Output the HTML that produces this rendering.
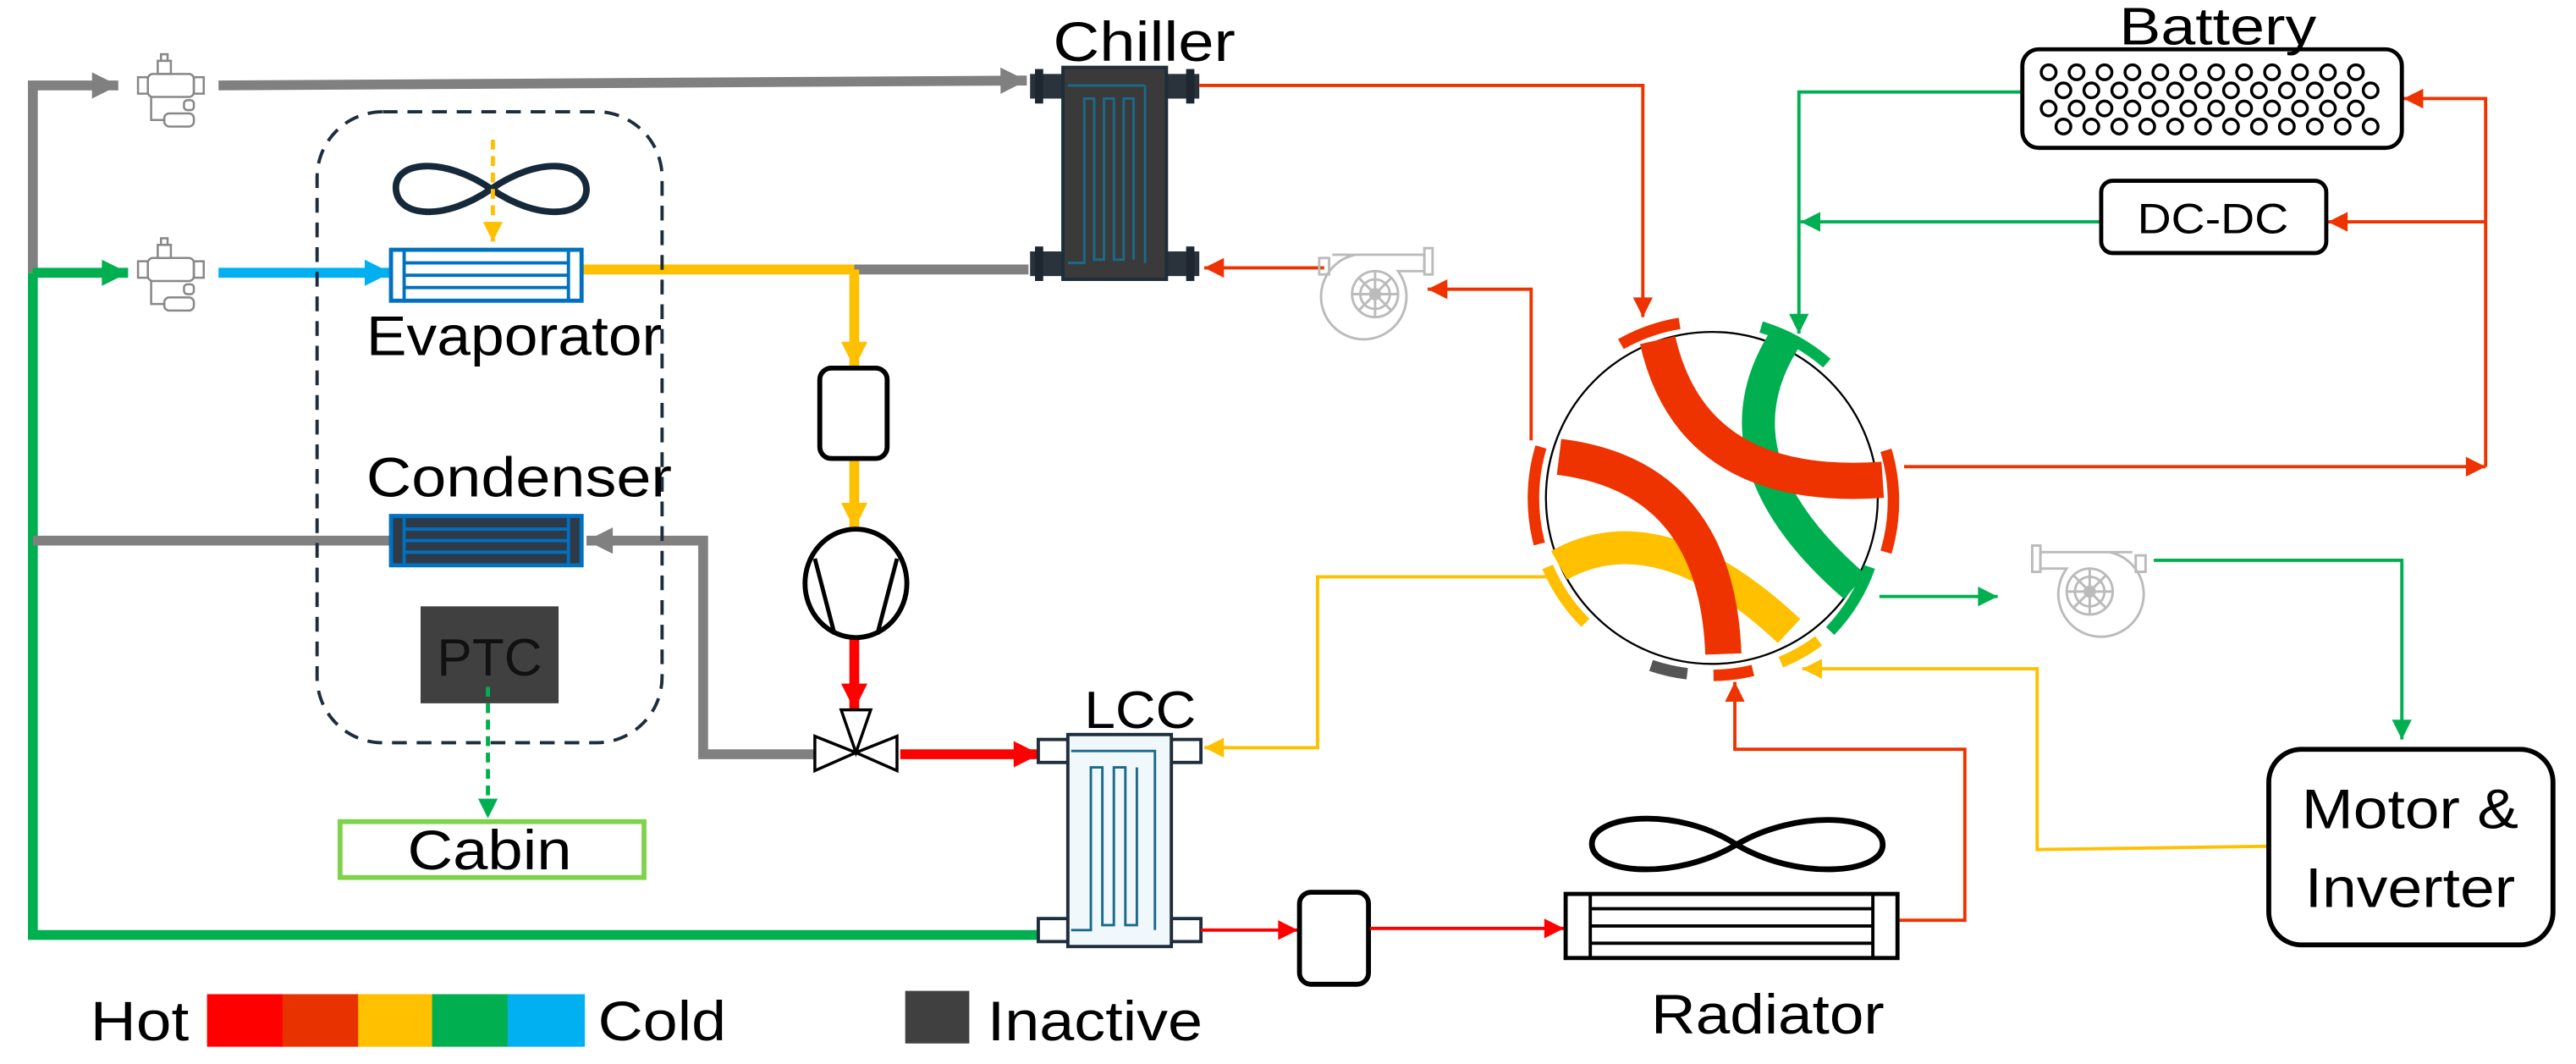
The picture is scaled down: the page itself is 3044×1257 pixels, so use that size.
<!DOCTYPE html>
<html><head><meta charset="utf-8"><style>html,body{margin:0;padding:0;background:#fff}svg{display:block}</style></head>
<body>
<svg width="3044" height="1257" viewBox="0 0 1568 647.5" xmlns="http://www.w3.org/2000/svg" font-family="Liberation Sans, sans-serif">
<defs>
<marker id="gT" viewBox="0 0 10 10" refX="10" refY="5" markerWidth="18" markerHeight="16" markerUnits="userSpaceOnUse" orient="auto"><path d="M0,0L10,5L0,10z" fill="#808080"/></marker>
<marker id="gnT" viewBox="0 0 10 10" refX="10" refY="5" markerWidth="18" markerHeight="16" markerUnits="userSpaceOnUse" orient="auto"><path d="M0,0L10,5L0,10z" fill="#00b050"/></marker>
<marker id="bT" viewBox="0 0 10 10" refX="10" refY="5" markerWidth="18" markerHeight="16" markerUnits="userSpaceOnUse" orient="auto"><path d="M0,0L10,5L0,10z" fill="#00b0f0"/></marker>
<marker id="yT" viewBox="0 0 10 10" refX="10" refY="5" markerWidth="18" markerHeight="16" markerUnits="userSpaceOnUse" orient="auto"><path d="M0,0L10,5L0,10z" fill="#ffc000"/></marker>
<marker id="rT" viewBox="0 0 10 10" refX="10" refY="5" markerWidth="18" markerHeight="16" markerUnits="userSpaceOnUse" orient="auto"><path d="M0,0L10,5L0,10z" fill="#ff0000"/></marker>
<marker id="o" viewBox="0 0 10 10" refX="10" refY="5" markerWidth="13" markerHeight="12" markerUnits="userSpaceOnUse" orient="auto"><path d="M0,0L10,5L0,10z" fill="#ee3300"/></marker>
<marker id="r" viewBox="0 0 10 10" refX="10" refY="5" markerWidth="13" markerHeight="12" markerUnits="userSpaceOnUse" orient="auto"><path d="M0,0L10,5L0,10z" fill="#ff0000"/></marker>
<marker id="g" viewBox="0 0 10 10" refX="10" refY="5" markerWidth="13" markerHeight="12" markerUnits="userSpaceOnUse" orient="auto"><path d="M0,0L10,5L0,10z" fill="#00b050"/></marker>
<marker id="y" viewBox="0 0 10 10" refX="10" refY="5" markerWidth="13" markerHeight="12" markerUnits="userSpaceOnUse" orient="auto"><path d="M0,0L10,5L0,10z" fill="#ffc000"/></marker>
<g id="valve" fill="none" stroke="#888" stroke-width="1.3">
<rect x="8" y="12" width="28" height="14" rx="3" fill="#fff"/><rect x="36" y="14" width="6" height="10"/><rect x="14" y="4" width="8" height="8"/><rect x="16" y="0" width="4" height="4"/>
<path d="M10,26 V40 H18"/><rect x="18" y="36" width="18" height="8" rx="3"/><rect x="30" y="28" width="6" height="6" rx="2"/><rect x="2" y="14" width="6" height="10"/>
</g>
<g id="pump" fill="none" stroke="#bbb" stroke-width="1.5">
<path d="M8,6 H64 V16 H48 A26,26 0 1 1 22,6"/><rect x="64" y="2" width="5" height="16"/><circle cx="34" cy="30" r="14"/><circle cx="34" cy="30" r="9"/><circle cx="34" cy="30" r="3"/>
<path d="M34,16V44M20,30H48M24,20L44,40M44,20L24,40"/><rect x="0" y="8" width="6" height="10"/>
</g>
</defs>

<!-- refrigerant lines -->
<path d="M20,166 V52 H72" stroke="#808080" stroke-width="6" fill="none" marker-end="url(#gT)"/>
<path d="M133,52 L625,49" stroke="#808080" stroke-width="6" fill="none" marker-end="url(#gT)"/>
<path d="M20,166 V569 H633" stroke="#00b050" stroke-width="6" fill="none"/>
<path d="M20,166 H78" stroke="#00b050" stroke-width="6" fill="none" marker-end="url(#gnT)"/>
<path d="M133,166 H238" stroke="#00b0f0" stroke-width="6" fill="none" marker-end="url(#bT)"/>
<path d="M355,164 H520" stroke="#ffc000" stroke-width="6" fill="none"/>
<path d="M520,164 H626" stroke="#808080" stroke-width="6" fill="none"/>
<path d="M520,164 V224" stroke="#ffc000" stroke-width="6" fill="none" marker-end="url(#yT)"/>
<path d="M520,279 V322" stroke="#ffc000" stroke-width="6" fill="none" marker-end="url(#yT)"/>
<path d="M520,388 V432" stroke="#ff0000" stroke-width="6" fill="none" marker-end="url(#rT)"/>
<path d="M548,459 H633" stroke="#ff0000" stroke-width="6" fill="none" marker-end="url(#rT)"/>
<path d="M20,329 H238" stroke="#808080" stroke-width="6" fill="none"/>
<path d="M496,459 H428 V329 H357" stroke="#808080" stroke-width="6" fill="none" marker-end="url(#gT)"/>

<!-- valves -->
<use href="#valve" x="82" y="33"/>
<use href="#valve" x="82" y="145"/>

<!-- dashed enclosure -->
<rect x="193" y="68" width="210" height="384" rx="40" fill="none" stroke="#1e2d3c" stroke-width="2" stroke-dasharray="9,6"/>
<!-- fan -->
<path d="M299,115 C270,95 240,98 241,115 C242,132 270,135 299,115 C328,95 356,98 357,115 C357,132 328,135 299,115Z" fill="none" stroke="#16293a" stroke-width="4"/>
<path d="M300,85 V147" stroke="#ffc000" stroke-width="2.5" stroke-dasharray="6,4" fill="none" marker-end="url(#y)"/>
<!-- evaporator -->
<rect x="238" y="152" width="116" height="31" fill="#fff" stroke="#0070c0" stroke-width="2.5"/>
<path d="M246,152V183M346,152V183M246,160H346M246,167.5H346M246,175H346" stroke="#0070c0" stroke-width="2"/>
<text x="223" y="216" font-size="34" textLength="180" lengthAdjust="spacingAndGlyphs">Evaporator</text>
<!-- condenser -->
<rect x="238" y="314" width="116" height="30" fill="#2f3a48" stroke="#0070c0" stroke-width="2.5"/>
<path d="M246,314V344M346,314V344M246,322H346M246,329H346M246,336H346" stroke="#0070c0" stroke-width="2"/>
<text x="223" y="302" font-size="34" textLength="186" lengthAdjust="spacingAndGlyphs">Condenser</text>
<!-- PTC -->
<rect x="256" y="369" width="84" height="59" fill="#404040"/>
<text x="298" y="411" font-size="32" text-anchor="middle" fill="#111" textLength="64" lengthAdjust="spacingAndGlyphs">PTC</text>
<path d="M297,418 V498" stroke="#00b050" stroke-width="2.5" stroke-dasharray="6,4" fill="none" marker-end="url(#g)"/>
<rect x="207" y="500" width="185" height="34" fill="#fff" stroke="#7fd34a" stroke-width="3"/>
<text x="298" y="529" font-size="34" text-anchor="middle" textLength="100" lengthAdjust="spacingAndGlyphs">Cabin</text>

<!-- accumulator / compressor / exp valve -->
<rect x="499" y="224" width="41" height="55" rx="7" fill="#fff" stroke="#000" stroke-width="3"/>
<ellipse cx="521" cy="355" rx="31" ry="33" fill="#fff" stroke="#000" stroke-width="3"/>
<path d="M496,340 L508,386 M546,340 L534,386" stroke="#000" stroke-width="2.5"/>
<path d="M496,448 L521,458 L496,469Z M546,448 L521,458 L546,469Z M512,432 H530 L521,458Z" fill="#fff" stroke="#000" stroke-width="1.8"/>

<!-- Chiller -->
<rect x="627" y="45" width="20" height="15" fill="#2a323c"/><rect x="710" y="45" width="20" height="15" fill="#2a323c"/>
<rect x="627" y="153" width="20" height="15" fill="#2a323c"/><rect x="710" y="153" width="20" height="15" fill="#2a323c"/>
<rect x="630" y="42" width="5" height="21" fill="#1e2630"/><rect x="722" y="42" width="5" height="21" fill="#1e2630"/>
<rect x="630" y="150" width="5" height="21" fill="#1e2630"/><rect x="722" y="150" width="5" height="21" fill="#1e2630"/>
<rect x="647" y="41" width="63" height="129" fill="#3a3a3a" stroke="#1e2d3c" stroke-width="2"/>
<path d="M697,52 H650 M697,52 V160 M650,160 H660 V60 H666 V158 H672 V60 H678 V158 H684 V60 H690 V158" fill="none" stroke="#1a6a8a" stroke-width="1.5"/>
<text x="641" y="37" font-size="34" textLength="111" lengthAdjust="spacingAndGlyphs">Chiller</text>

<!-- LCC -->
<rect x="632" y="450" width="18" height="14" fill="#fff" stroke="#1e2d3c" stroke-width="2"/><rect x="713" y="450" width="18" height="14" fill="#fff" stroke="#1e2d3c" stroke-width="2"/>
<rect x="632" y="559" width="18" height="14" fill="#fff" stroke="#1e2d3c" stroke-width="2"/><rect x="713" y="559" width="18" height="14" fill="#fff" stroke="#1e2d3c" stroke-width="2"/>
<rect x="650" y="447" width="63" height="129" fill="#f0f8fc" stroke="#1e2d3c" stroke-width="2"/>
<path d="M652,457 H703 V566 M652,566 H664 V467 H671 V563 H678 V467 H685 V563 H692 V467" fill="none" stroke="#1a6a8a" stroke-width="1.5"/>
<text x="660" y="443" font-size="32" textLength="68" lengthAdjust="spacingAndGlyphs">LCC</text>

<!-- coolant lines -->
<path d="M730,52 H1000 V193" stroke="#ee3300" stroke-width="2" fill="none" marker-end="url(#o)"/>
<path d="M806,163 H733" stroke="#ee3300" stroke-width="2" fill="none" marker-end="url(#o)"/>
<path d="M932,268 V176 H869" stroke="#ee3300" stroke-width="2" fill="none" marker-end="url(#o)"/>
<use href="#pump" x="803" y="149"/>
<path d="M941,351 H802 V455 H733" stroke="#ffc000" stroke-width="2" fill="none" marker-end="url(#y)"/>
<path d="M731,566 H790" stroke="#ff0000" stroke-width="2" fill="none" marker-end="url(#r)"/>
<rect x="791" y="543" width="42" height="56" rx="7" fill="#fff" stroke="#000" stroke-width="3"/>
<path d="M834,565 H952" stroke="#ff0000" stroke-width="2" fill="none" marker-end="url(#r)"/>
<path d="M1155,560 H1196 V456 H1056 V415" stroke="#ee3300" stroke-width="2" fill="none" marker-end="url(#o)"/>
<path d="M1381,515 L1240,517 V407 H1097" stroke="#ffc000" stroke-width="2" fill="none" marker-end="url(#y)"/>
<path d="M1144,363 H1216" stroke="#00b050" stroke-width="2" fill="none" marker-end="url(#g)"/>
<use href="#pump" x="1216" y="330" transform="translate(2522,0) scale(-1,1)"/>
<path d="M1311,341 H1462 V450" stroke="#00b050" stroke-width="2" fill="none" marker-end="url(#g)"/>
<path d="M1231,56 H1095 V203" stroke="#00b050" stroke-width="2" fill="none" marker-end="url(#g)"/>
<path d="M1279,135 H1096" stroke="#00b050" stroke-width="2" fill="none" marker-end="url(#g)"/>
<path d="M1159,284 H1513" stroke="#ee3300" stroke-width="2" fill="none" marker-end="url(#o)"/>
<path d="M1513,284 V60 H1463" stroke="#ee3300" stroke-width="2" fill="none" marker-end="url(#o)"/>
<path d="M1513,135 H1417" stroke="#ee3300" stroke-width="2" fill="none" marker-end="url(#o)"/>

<!-- Battery -->
<rect x="1231" y="30" width="231" height="60" rx="10" fill="#fff" stroke="#000" stroke-width="2.5"/>
<g fill="none" stroke="#000" stroke-width="1.8">
<circle cx="1247" cy="44" r="4.5"/><circle cx="1264" cy="44" r="4.5"/><circle cx="1281" cy="44" r="4.5"/><circle cx="1298" cy="44" r="4.5"/><circle cx="1315" cy="44" r="4.5"/><circle cx="1332" cy="44" r="4.5"/><circle cx="1349" cy="44" r="4.5"/><circle cx="1366" cy="44" r="4.5"/><circle cx="1383" cy="44" r="4.5"/><circle cx="1400" cy="44" r="4.5"/><circle cx="1417" cy="44" r="4.5"/><circle cx="1434" cy="44" r="4.5"/>
<circle cx="1256" cy="55" r="4.5"/><circle cx="1273" cy="55" r="4.5"/><circle cx="1290" cy="55" r="4.5"/><circle cx="1307" cy="55" r="4.5"/><circle cx="1324" cy="55" r="4.5"/><circle cx="1341" cy="55" r="4.5"/><circle cx="1358" cy="55" r="4.5"/><circle cx="1375" cy="55" r="4.5"/><circle cx="1392" cy="55" r="4.5"/><circle cx="1409" cy="55" r="4.5"/><circle cx="1426" cy="55" r="4.5"/><circle cx="1443" cy="55" r="4.5"/>
<circle cx="1247" cy="66" r="4.5"/><circle cx="1264" cy="66" r="4.5"/><circle cx="1281" cy="66" r="4.5"/><circle cx="1298" cy="66" r="4.5"/><circle cx="1315" cy="66" r="4.5"/><circle cx="1332" cy="66" r="4.5"/><circle cx="1349" cy="66" r="4.5"/><circle cx="1366" cy="66" r="4.5"/><circle cx="1383" cy="66" r="4.5"/><circle cx="1400" cy="66" r="4.5"/><circle cx="1417" cy="66" r="4.5"/><circle cx="1434" cy="66" r="4.5"/>
<circle cx="1256" cy="77" r="4.5"/><circle cx="1273" cy="77" r="4.5"/><circle cx="1290" cy="77" r="4.5"/><circle cx="1307" cy="77" r="4.5"/><circle cx="1324" cy="77" r="4.5"/><circle cx="1341" cy="77" r="4.5"/><circle cx="1358" cy="77" r="4.5"/><circle cx="1375" cy="77" r="4.5"/><circle cx="1392" cy="77" r="4.5"/><circle cx="1409" cy="77" r="4.5"/><circle cx="1426" cy="77" r="4.5"/><circle cx="1443" cy="77" r="4.5"/>
</g>
<text x="1290" y="27" font-size="32" textLength="120" lengthAdjust="spacingAndGlyphs">Battery</text>
<rect x="1279" y="110" width="137" height="44" rx="7" fill="#fff" stroke="#000" stroke-width="2.5"/>
<text x="1347" y="142" font-size="26" text-anchor="middle" textLength="92" lengthAdjust="spacingAndGlyphs">DC-DC</text>

<!-- Motor -->
<rect x="1381" y="456" width="173" height="119" rx="20" fill="#fff" stroke="#000" stroke-width="3"/>
<text x="1467" y="504" font-size="34" text-anchor="middle" textLength="132" lengthAdjust="spacingAndGlyphs">Motor &amp;</text>
<text x="1467" y="552" font-size="34" text-anchor="middle" textLength="128" lengthAdjust="spacingAndGlyphs">Inverter</text>

<!-- Radiator -->
<path d="M1057,514 C1020,490 968,496 969,514 C970,532 1020,536 1057,514 C1094,492 1146,496 1146,514 C1146,532 1094,536 1057,514Z" fill="none" stroke="#000" stroke-width="3.5"/>
<rect x="953" y="544" width="202" height="39" fill="#fff" stroke="#000" stroke-width="2.5"/>
<path d="M968,544V583M1140,544V583M968,553H1140M968,563.5H1140M968,574H1140" stroke="#000" stroke-width="2"/>
<text x="1005" y="629" font-size="34" textLength="142" lengthAdjust="spacingAndGlyphs">Radiator</text>

<!-- rotary valve -->
<circle cx="1042" cy="303" r="101" fill="#fff" stroke="#000" stroke-width="1.2"/>
<path d="M1086,207 Q1040,280 1129,357" stroke="#00b050" stroke-width="20" fill="none"/>
<path d="M1009,207 Q1030,300 1146,292" stroke="#ee3300" stroke-width="22" fill="none"/>
<path d="M949,344 Q1010,310 1089,384" stroke="#ffc000" stroke-width="20" fill="none"/>
<path d="M949,278 Q1045,290 1049,398" stroke="#ee3300" stroke-width="22" fill="none"/>
<g fill="none" stroke-width="7">
<path d="M1000.2,202.6 A108,108 0 0 1 1037.3,195.1" stroke="#ee3300" transform="rotate(-8 1042 303)"/>
<path d="M1072,199 A108,108 0 0 1 1112,221" stroke="#00b050"/>
<path d="M1148,274 A108,108 0 0 1 1148,336" stroke="#ee3300"/>
<path d="M1138,345 A108,108 0 0 1 1114,384" stroke="#00b050"/>
<path d="M1107,390 A108,108 0 0 1 1084,403" stroke="#ffc000"/>
<path d="M1067,408 A108,108 0 0 1 1043,411" stroke="#ee3300"/>
<path d="M1027,410 A108,108 0 0 1 1005,405" stroke="#555"/>
<path d="M965,379 A108,108 0 0 1 942,345" stroke="#ffc000"/>
<path d="M937,331 A108,108 0 0 1 938,272" stroke="#ee3300"/>
</g>

<!-- legend -->
<text x="55" y="633" font-size="34" textLength="60" lengthAdjust="spacingAndGlyphs">Hot</text>
<rect x="126" y="605" width="47" height="32" fill="#ff0000"/>
<rect x="172" y="605" width="47" height="32" fill="#e83200"/>
<rect x="218" y="605" width="46" height="32" fill="#ffc000"/>
<rect x="263" y="605" width="47" height="32" fill="#00b050"/>
<rect x="309" y="605" width="47" height="32" fill="#00b0f0"/>
<text x="364" y="633" font-size="34" textLength="78" lengthAdjust="spacingAndGlyphs">Cold</text>
<rect x="551" y="603" width="39" height="32" fill="#404040"/>
<text x="601" y="633" font-size="34" textLength="131" lengthAdjust="spacingAndGlyphs">Inactive</text>
</svg>
</body></html>
